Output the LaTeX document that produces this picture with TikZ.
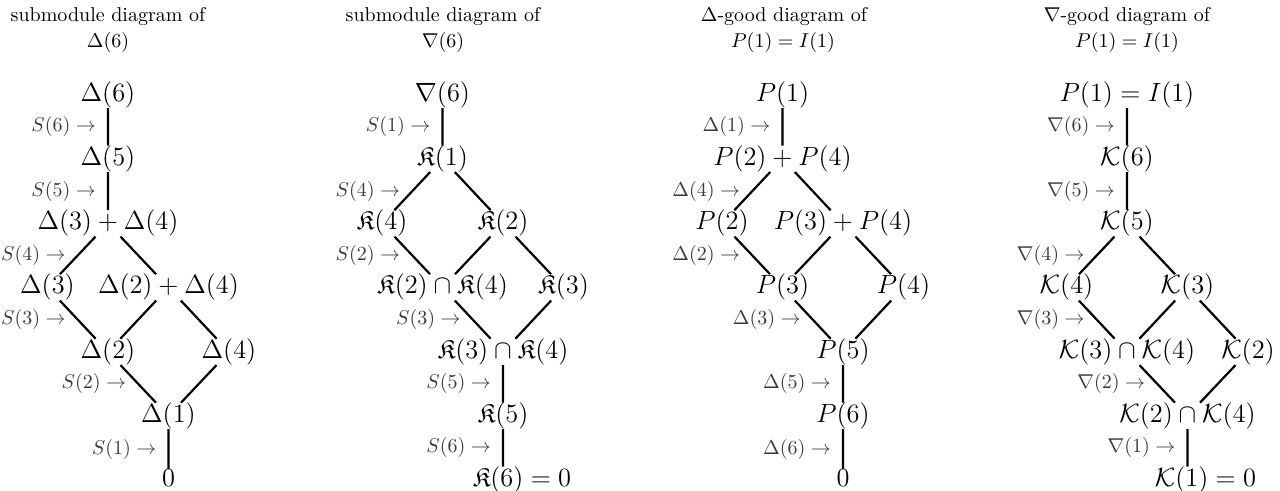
\documentclass[tikz,border=0pt]{standalone}
\usepackage{amsmath,amssymb}
\usepackage{tikz}
\usepackage{xcolor}
\definecolor{lblgray}{HTML}{3A3A3A}
\newcommand{\TitleText}[1]{{\fontsize{10}{13}\selectfont#1}}
\tikzset{
  mod/.style={anchor=base,inner sep=0pt,outer sep=0pt,font=\fontsize{12}{14.4}\selectfont,scale=1.1},
  link/.style={line width=1.1pt},
  lbl/.style={left=5.5pt,inner sep=0pt,font=\fontsize{10}{12}\selectfont,text=lblgray},
  ttl/.style={anchor=base,inner sep=0pt}
}

\begin{document}
\begin{tikzpicture}[x=0.5pt,y=-0.5pt]
  \useasboundingbox (0,0) rectangle (1280,491);

  % submodule diagram of Delta(6)
  \node[ttl] (t1a) at (108,22) {\TitleText{submodule diagram of}};
  \node[ttl] (t1b) at (108,48) {\TitleText{$\Delta(6)$}};
  \node[mod] (d6) at (108,101.5) {$\Delta(6)$};
  \node[mod] (d5) at (108,165.5) {$\Delta(5)$};
  \node[mod] (d34) at (108,230) {$\Delta(3)+\Delta(4)$};
  \node[mod] (d3) at (47.5,294) {$\Delta(3)$};
  \node[mod] (d24) at (168.5,294) {$\Delta(2)+\Delta(4)$};
  \node[mod] (d2) at (108,358.5) {$\Delta(2)$};
  \node[mod] (d4) at (229,358.5) {$\Delta(4)$};
  \node[mod] (d1) at (168.5,422.5) {$\Delta(1)$};
  \node[mod] (z1) at (168.5,486.5) {$0$};
  \draw[link] (d6) -- node[lbl] {$S(6)\to$} (d5);
  \draw[link] (d5) -- node[lbl] {$S(5)\to$} (d34);
  \draw[link] (d34) -- node[lbl] {$S(4)\to$} (d3);
  \draw[link] (d34) -- (d24);
  \draw[link] (d3) -- node[lbl] {$S(3)\to$} (d2);
  \draw[link] (d24) -- (d2);
  \draw[link] (d24) -- (d4);
  \draw[link] (d2) -- node[lbl] {$S(2)\to$} (d1);
  \draw[link] (d4) -- (d1);
  \draw[link] (d1) -- node[lbl] {$S(1)\to$} (z1);

  % submodule diagram of nabla(6)
  \node[ttl] (t2a) at (443,22) {\TitleText{submodule diagram of}};
  \node[ttl] (t2b) at (443,48) {\TitleText{$\nabla(6)$}};
  \node[mod] (n6) at (442.5,101.5) {$\nabla(6)$};
  \node[mod] (k1) at (442.5,165.5) {$\mathfrak{K}(1)$};
  \node[mod] (k4) at (382,230) {$\mathfrak{K}(4)$};
  \node[mod] (k2) at (503,230) {$\mathfrak{K}(2)$};
  \node[mod] (k24) at (442.5,294) {$\mathfrak{K}(2)\cap\mathfrak{K}(4)$};
  \node[mod] (k3) at (563.5,294) {$\mathfrak{K}(3)$};
  \node[mod] (k34) at (503,358.5) {$\mathfrak{K}(3)\cap\mathfrak{K}(4)$};
  \node[mod] (k5) at (503,422.5) {$\mathfrak{K}(5)$};
  \node[mod] (k6) at (522,486.5) {$\mathfrak{K}(6)=0$};
  \draw[link] (n6) -- node[lbl] {$S(1)\to$} (k1);
  \draw[link] (k1) -- node[lbl] {$S(4)\to$} (k4);
  \draw[link] (k1) -- (k2);
  \draw[link] (k4) -- node[lbl] {$S(2)\to$} (k24);
  \draw[link] (k2) -- (k24);
  \draw[link] (k2) -- (k3);
  \draw[link] (k24) -- node[lbl] {$S(3)\to$} (k34);
  \draw[link] (k3) -- (k34);
  \draw[link] (k34) -- node[lbl] {$S(5)\to$} (k5);
  \draw[link] (k5) -- node[lbl] {$S(6)\to$} (k5 |- k6.north);

  % Delta-good diagram of P(1)
  \node[ttl] (t3a) at (784,22) {\TitleText{$\Delta$-good diagram of}};
  \node[ttl] (t3b) at (783,48) {\TitleText{$P(1)=I(1)$}};
  \node[mod] (p1) at (782.5,101.5) {$P(1)$};
  \node[mod] (p24) at (782.5,165.5) {$P(2)+P(4)$};
  \node[mod] (p2) at (722,230) {$P(2)$};
  \node[mod] (p34) at (843,230) {$P(3)+P(4)$};
  \node[mod] (p3) at (782.5,294) {$P(3)$};
  \node[mod] (p4) at (903.5,294) {$P(4)$};
  \node[mod] (p5) at (843,358.5) {$P(5)$};
  \node[mod] (p6) at (843,422.5) {$P(6)$};
  \node[mod] (z3) at (843,486.5) {$0$};
  \draw[link] (p1) -- node[lbl] {$\Delta(1)\to$} (p24);
  \draw[link] (p24) -- node[lbl] {$\Delta(4)\to$} (p2);
  \draw[link] (p24) -- (p34);
  \draw[link] (p2) -- node[lbl] {$\Delta(2)\to$} (p3);
  \draw[link] (p34) -- (p3);
  \draw[link] (p34) -- (p4);
  \draw[link] (p3) -- node[lbl] {$\Delta(3)\to$} (p5);
  \draw[link] (p4) -- (p5);
  \draw[link] (p5) -- node[lbl] {$\Delta(5)\to$} (p6);
  \draw[link] (p6) -- node[lbl] {$\Delta(6)\to$} (z3);

  % nabla-good diagram of P(1)
  \node[ttl] (t4a) at (1127,22) {\TitleText{$\nabla$-good diagram of}};
  \node[ttl] (t4b) at (1127,48) {\TitleText{$P(1)=I(1)$}};
  \node[mod] (q1) at (1127,101.5) {$P(1)=I(1)$};
  \node[mod] (c6) at (1127,165.5) {$\mathcal{K}(6)$};
  \node[mod] (c5) at (1127,230) {$\mathcal{K}(5)$};
  \node[mod] (c4) at (1066.5,294) {$\mathcal{K}(4)$};
  \node[mod] (c3) at (1187.5,294) {$\mathcal{K}(3)$};
  \node[mod] (c34) at (1127,358.5) {$\mathcal{K}(3)\cap\mathcal{K}(4)$};
  \node[mod] (c2) at (1248,358.5) {$\mathcal{K}(2)$};
  \node[mod] (c24) at (1187.5,422.5) {$\mathcal{K}(2)\cap\mathcal{K}(4)$};
  \node[mod] (c1) at (1205.5,486.5) {$\mathcal{K}(1)=0$};
  \draw[link] (q1) -- node[lbl] {$\nabla(6)\to$} (c6);
  \draw[link] (c6) -- node[lbl] {$\nabla(5)\to$} (c5);
  \draw[link] (c5) -- node[lbl] {$\nabla(4)\to$} (c4);
  \draw[link] (c5) -- (c3);
  \draw[link] (c4) -- node[lbl] {$\nabla(3)\to$} (c34);
  \draw[link] (c3) -- (c34);
  \draw[link] (c3) -- (c2);
  \draw[link] (c34) -- node[lbl] {$\nabla(2)\to$} (c24);
  \draw[link] (c2) -- (c24);
  \draw[link] (c24) -- node[lbl] {$\nabla(1)\to$} (c24 |- c1.north);
\end{tikzpicture}
\end{document}
